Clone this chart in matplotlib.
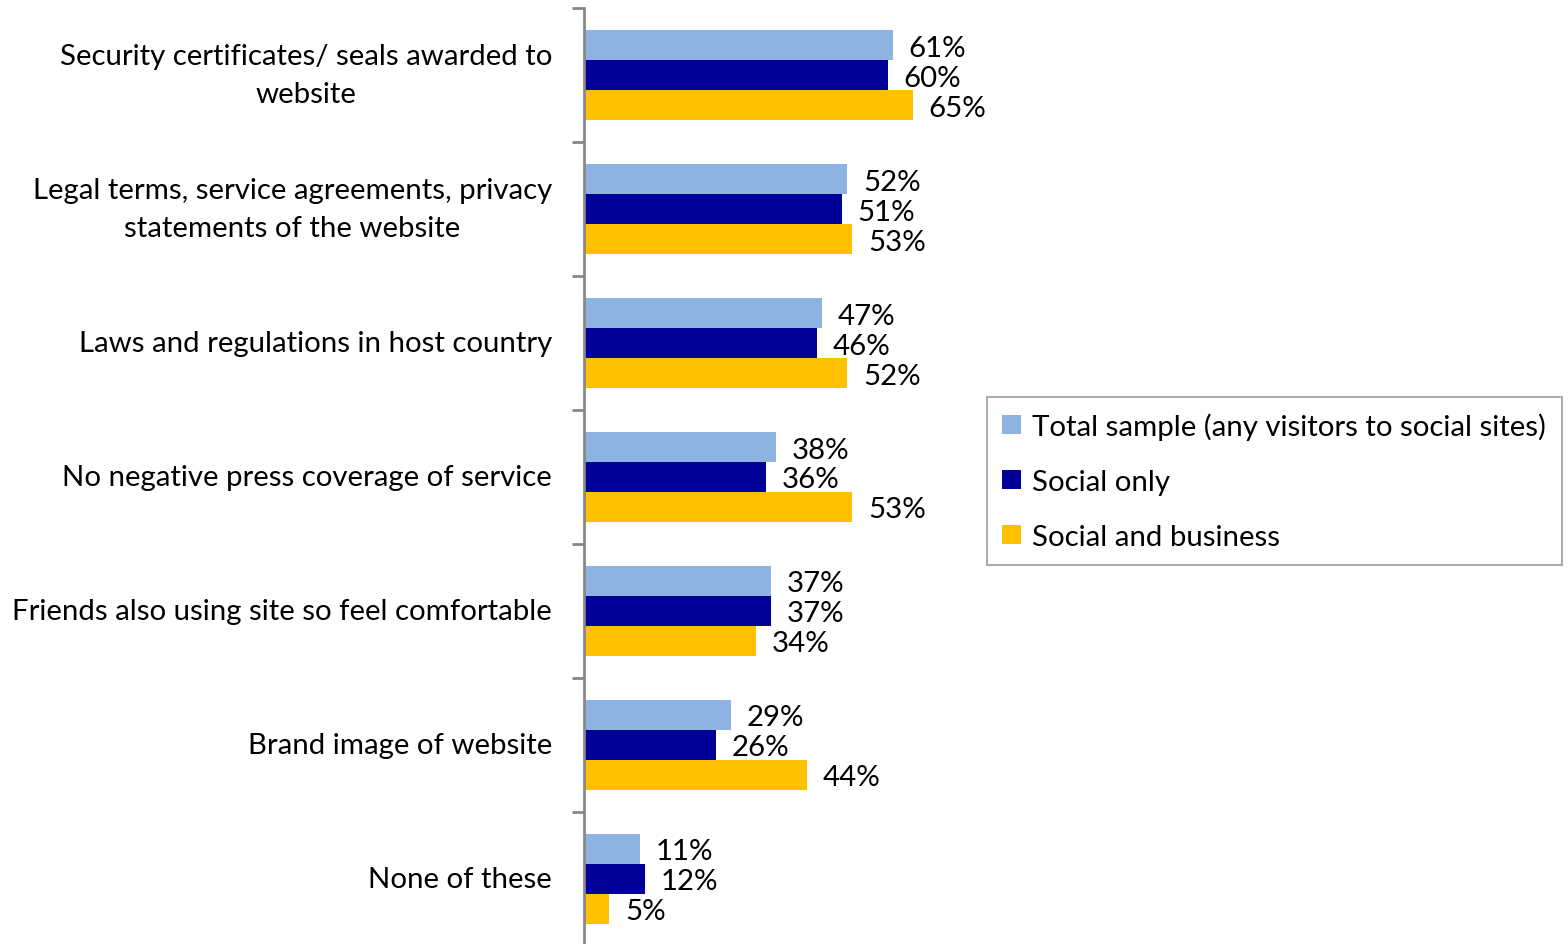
import matplotlib
matplotlib.use("Agg")
import matplotlib.pyplot as plt
import numpy as np

categories = [
    "Security certificates/ seals awarded to\nwebsite",
    "Legal terms, service agreements, privacy\nstatements of the website",
    "Laws and regulations in host country",
    "No negative press coverage of service",
    "Friends also using site so feel comfortable",
    "Brand image of website",
    "None of these",
]
series_names = [
    "Total sample (any visitors to social sites)",
    "Social only",
    "Social and business",
]
total_sample = [61, 52, 47, 38, 37, 29, 11]
social_only = [60, 51, 46, 36, 37, 26, 12]
social_business = [65, 53, 52, 53, 34, 44, 5]
colors = ["#8DB3E2", "#000099", "#FFC000"]

plt.rcParams["font.family"] = ["Lato", "DejaVu Sans"]
fs = 21.2

fig = plt.figure(figsize=(15.68, 9.45), dpi=100)
ax = fig.add_axes([584 / 1568, -2 / 945, 1 - 584 / 1568, 938 / 945])

n = len(categories)
y = np.arange(n)
h = 30 / 134
handles = []
for k, (vals, c, name) in enumerate(zip([total_sample, social_only, social_business], colors, series_names)):
    pos = y + (k - 1) * h
    b = ax.barh(pos, vals, height=h, color=c, label=name, edgecolor="none")
    handles.append(b)
    for p, v in zip(pos, vals):
        ax.text(v + 3.1, p, f"{v}%", va="center_baseline", ha="left", fontsize=fs, color="black")

ax.set_ylim(n - 0.5, -0.5)
ax.set_xlim(0, (1568 - 584) / 5.06)

for s in ["top", "right", "bottom"]:
    ax.spines[s].set_visible(False)
ax.spines["left"].set_color("#888888")
ax.spines["left"].set_linewidth(2)
ax.set_xticks([])

ax.set_yticks(y)
ax.set_yticklabels(categories, fontsize=fs)
for lbl in ax.get_yticklabels():
    lbl.set_multialignment("center")
    lbl.set_linespacing(1.55)
    lbl.set_verticalalignment("center")
ax.set_yticks(np.arange(n + 1) - 0.5, minor=True)
ax.tick_params(axis="y", which="minor", length=9, width=2, color="#888888", direction="out")
ax.tick_params(axis="y", which="major", length=0, pad=23)

leg = fig.legend(
    handles=handles, labels=series_names, loc="upper left",
    bbox_to_anchor=(987 / 1568, 1 - 398 / 945), fontsize=fs,
    frameon=True, fancybox=False, handlelength=0.62, handleheight=0.62,
    handletextpad=0.4, labelspacing=0.98, borderpad=0.52, borderaxespad=0,
)
leg.get_frame().set_edgecolor("#999999")
leg.get_frame().set_linewidth(1.5)

fig.savefig("out.png", dpi=100)
